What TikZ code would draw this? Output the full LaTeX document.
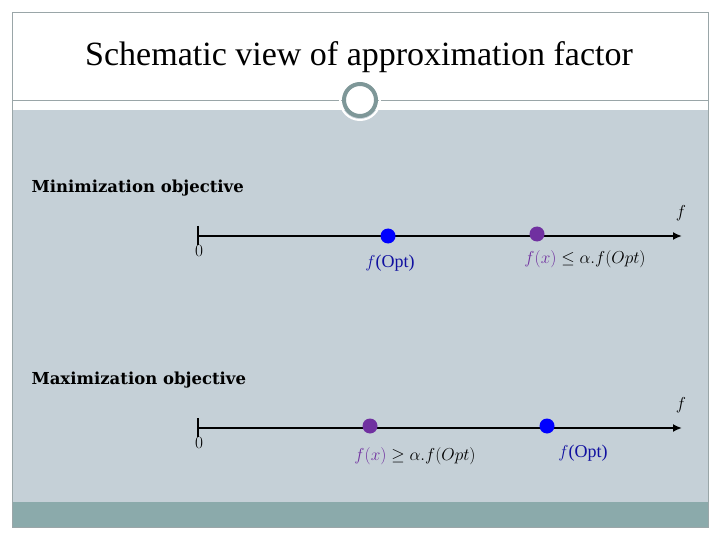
\documentclass[tikz,border=0pt]{standalone}
\usepackage{fontspec}
\setmainfont{Liberation Serif}
\newfontfamily\slab{DejaVu Serif}
\usetikzlibrary{arrows.meta}
\definecolor{bgg}{HTML}{C5D0D7}
\definecolor{strip}{HTML}{8BAAAB}
\definecolor{frm}{HTML}{9AA6A8}
\definecolor{ring}{HTML}{7E9798}
\definecolor{pur}{HTML}{7030A0}
\definecolor{dblue}{HTML}{1010A0}
\begin{document}
\begin{tikzpicture}[x=1pt,y=-1pt,
  axis/.style={line width=2pt,-{Latex[length=9pt,width=8pt]}},
  bdot/.style={circle,fill=blue,inner sep=0pt,minimum size=15pt},
  pdot/.style={circle,fill=pur,inner sep=0pt,minimum size=15pt},
  head/.style={anchor=west,font=\slab\bfseries\fontsize{16.5}{18}\selectfont},
  lab/.style={font=\fontsize{18}{20}\selectfont},
  olab/.style={font=\fontsize{18}{20}\selectfont,text=dblue}]
\useasboundingbox (0,0) rectangle (720,540);
\fill[white] (0,0) rectangle (720,540);
\fill[bgg] (12,110) rectangle (708,502);
\fill[strip] (12,502) rectangle (708,527);
\draw[frm] (12,12) rectangle (708,527);
\draw[frm] (12,100) -- (708,100);
\node[circle,draw=ring,line width=4pt,fill=white,minimum size=32pt,inner sep=0pt] (c) at (360,100) {};
\node[circle,draw=white,line width=2pt,minimum size=40pt,inner sep=0pt] at (c) {};
\node[font=\fontsize{34}{38}\selectfont] (t) at (359,57) {Schematic view of approximation factor};
% minimization
\node[head] (h1) at (28,188) {Minimization objective};
\coordinate (a1) at (198,236); \coordinate (e1) at (682,236);
\draw[axis] (a1) -- (e1);
\draw[line width=2pt] (198,226) -- (198,245);
\node[lab] (z1) at (199,251) {$0$};
\node[lab] (f1) at (681,213) {$f$};
\node[bdot] (o1) at (388,236) {};
\node[pdot] (x1) at (537,234) {};
\node[olab] at (390,263) {$f$(Opt)};
\node[lab,font=\fontsize{17}{20}\selectfont] at (585,259) {$\color{pur}f(x)\color{black}\leq\alpha.f(Opt)$};
% maximization
\node[head] (h2) at (28,380) {Maximization objective};
\draw[axis] (198,428) -- (682,428);
\draw[line width=2pt] (198,418) -- (198,437);
\node[lab] (z2) at (199,443) {$0$};
\node[lab] (f2) at (681,405) {$f$};
\node[pdot] (x2) at (370,426) {};
\node[bdot] (o2) at (547,426) {};
\node[lab,font=\fontsize{17}{20}\selectfont] at (415,456) {$\color{pur}f(x)\color{black}\geq\alpha.f(Opt)$};
\node[olab] at (583,453) {$f$(Opt)};
\end{tikzpicture}
\end{document}
